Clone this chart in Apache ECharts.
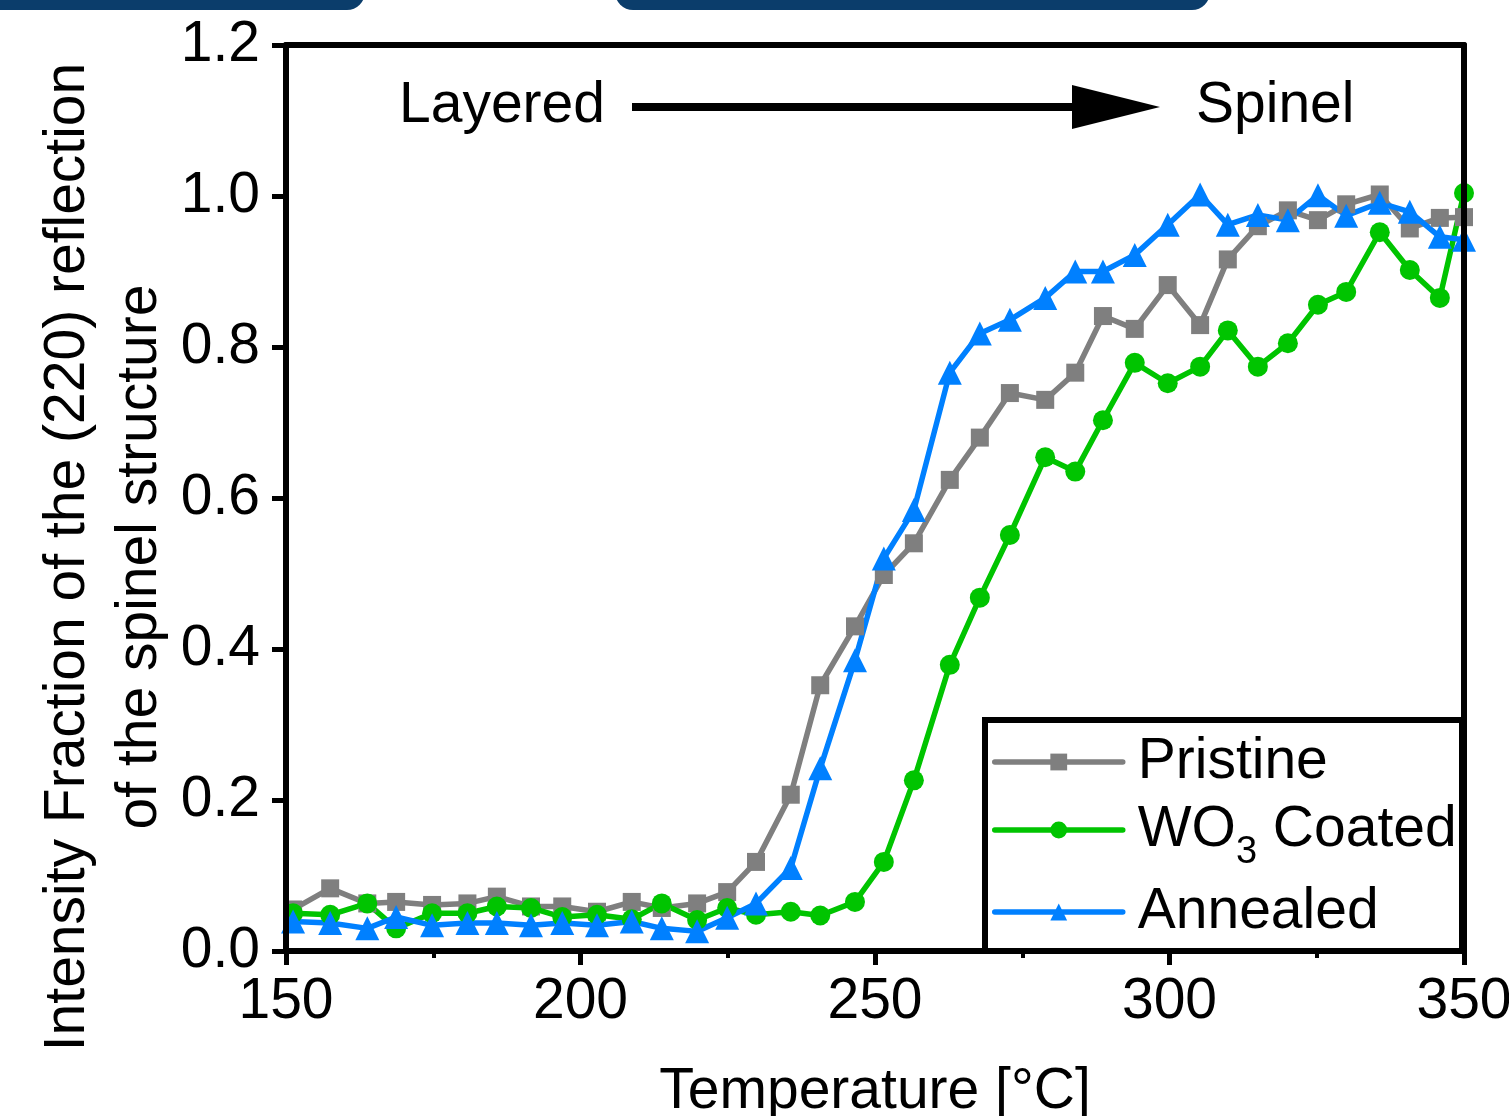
<!DOCTYPE html>
<html>
<head>
<meta charset="utf-8">
<script src="https://cdn.jsdelivr.net/npm/echarts@6/dist/echarts.min.js"></script>
<style>
html,body{margin:0;padding:0;background:#fff;}
#chart{width:1509px;height:1116px;}
</style>
</head>
<body>
<div id="chart"></div>
<script>
// ---- data ----
const temps = [151.2, 157.5, 163.8, 168.7, 174.8, 180.8, 185.8, 191.6, 196.9, 202.8,
  208.7, 213.8, 219.8, 224.9, 229.8, 235.7, 240.7, 246.6, 251.5, 256.6,
  262.7, 267.8, 272.9, 278.9, 284.0, 288.7, 294.1, 299.7, 305.2, 309.9,
  315.0, 320.1, 325.2, 330.0, 335.7, 340.8, 345.9, 350.0];
const pristine = [0.055, 0.083, 0.063, 0.065, 0.061, 0.063, 0.072, 0.059, 0.059, 0.052,
  0.065, 0.057, 0.063, 0.078, 0.118, 0.207, 0.352, 0.430, 0.498, 0.540,
  0.624, 0.680, 0.739, 0.730, 0.766, 0.841, 0.824, 0.882, 0.829, 0.916,
  0.960, 0.981, 0.968, 0.989, 1.002, 0.957, 0.971, 0.972];
const wo3Coated = [0.050, 0.048, 0.063, 0.030, 0.050, 0.050, 0.059, 0.057, 0.045, 0.048,
  0.042, 0.063, 0.041, 0.057, 0.048, 0.052, 0.047, 0.065, 0.118, 0.226,
  0.379, 0.468, 0.551, 0.654, 0.635, 0.703, 0.779, 0.752, 0.774, 0.822,
  0.774, 0.805, 0.856, 0.873, 0.952, 0.902, 0.865, 1.004];
const annealed = [0.039, 0.037, 0.030, 0.045, 0.034, 0.037, 0.037, 0.034, 0.037, 0.034,
  0.039, 0.030, 0.026, 0.044, 0.063, 0.110, 0.242, 0.385, 0.520, 0.584,
  0.766, 0.818, 0.836, 0.865, 0.900, 0.900, 0.922, 0.962, 1.002, 0.962,
  0.975, 0.968, 1.001, 0.974, 0.991, 0.979, 0.946, 0.942];
const seriesNames = ['Pristine', 'WO3 Coated', 'Annealed'];
const xTicks = {min: 150, max: 350, interval: 50};
const yTicks = {min: 0, max: 1.2, interval: 0.2};
const xTitle = 'Temperature [°C]';
const yTitle = 'Intensity Fraction of the (220) reflection\nof the spinel structure';

const FONT = '"Liberation Sans", Arial, sans-serif';
const FS = 57;
const zip = vals => temps.map((t, i) => [t, vals[i]]);

const chart = echarts.init(document.getElementById('chart'), null, {renderer: 'canvas'});

function mkSeries(name, vals, color, symbol, size) {
  return {
    name: name, type: 'line', data: zip(vals),
    symbol: symbol, symbolSize: size,
    lineStyle: {color: color, width: 5.5},
    itemStyle: {color: color},
    emphasis: {disabled: true},
    animation: false, clip: true, z: 2
  };
}

function mkLegend(name, top, rich) {
  const ts = {fontSize: FS, fontFamily: FONT, color: '#000', lineHeight: 60, padding: [0, 0, 0, 10]};
  if (rich) {
    ts.rich = {
      n: {fontSize: FS, fontFamily: FONT, color: '#000', lineHeight: 60},
      s: {fontSize: 38, fontFamily: FONT, color: '#000', lineHeight: 38, padding: [46, 0, 0, 0]}
    };
  }
  return {
    data: [name], left: 992, top: top, orient: 'vertical', padding: 0,
    itemWidth: 128, itemHeight: 21, selectedMode: false, z: 10,
    lineStyle: {width: 5.5, cap: 'round'},
    textStyle: ts,
    formatter: rich ? () => '{n|WO}{s|3}{n| Coated}' : undefined
  };
}

const option = {
  backgroundColor: '#fff',
  animation: false,
  grid: {left: 286, right: 45, top: 45, bottom: 165, show: false, outerBoundsMode: 'none', containLabel: false},
  xAxis: [{
    type: 'value', min: xTicks.min, max: xTicks.max, interval: xTicks.interval,
    position: 'bottom', z: 5,
    axisLine: {show: true, onZero: false, lineStyle: {color: '#000', width: 6}},
    axisTick: {show: true, length: 14, lineStyle: {color: '#000', width: 5}},
    minorTick: {show: true, splitNumber: 2, length: 7, lineStyle: {color: '#000', width: 4}},
    splitLine: {show: false},
    axisLabel: {fontSize: FS, fontFamily: FONT, color: '#000', margin: 23},
    name: xTitle, nameLocation: 'middle', nameGap: 113,
    nameTextStyle: {fontSize: FS, fontFamily: FONT, color: '#000'}
  }, {
    type: 'value', min: xTicks.min, max: xTicks.max, position: 'top', z: 5,
    axisLine: {show: true, onZero: false, lineStyle: {color: '#000', width: 6}},
    axisTick: {show: false}, axisLabel: {show: false}, splitLine: {show: false}
  }],
  yAxis: [{
    type: 'value', min: yTicks.min, max: yTicks.max, interval: yTicks.interval,
    position: 'left', z: 5,
    axisLine: {show: true, onZero: false, lineStyle: {color: '#000', width: 6}},
    axisTick: {show: true, length: 14, lineStyle: {color: '#000', width: 5}},
    splitLine: {show: false},
    axisLabel: {fontSize: FS, fontFamily: FONT, color: '#000', margin: 26,
      formatter: v => v.toFixed(1)}
  }, {
    type: 'value', min: yTicks.min, max: yTicks.max, position: 'right', z: 5,
    axisLine: {show: true, onZero: false, lineStyle: {color: '#000', width: 6}},
    axisTick: {show: false}, axisLabel: {show: false}, splitLine: {show: false}
  }],
  legend: [
    mkLegend(seriesNames[0], 732, false),
    mkLegend(seriesNames[1], 788, true),
    mkLegend(seriesNames[2], 882, false)
  ],
  series: [
    mkSeries(seriesNames[0], pristine, '#7f7f7f', 'rect', 18),
    mkSeries(seriesNames[1], wo3Coated, '#00c400', 'circle', 20),
    mkSeries(seriesNames[2], annealed, '#0080ff', 'triangle', 24)
  ],
  graphic: [
    {type: 'rect', shape: {x: -20, y: -30, width: 385, height: 40, r: 18}, style: {fill: '#0b3d6b'}, z: 1},
    {type: 'rect', shape: {x: 615, y: -30, width: 595, height: 40, r: 18}, style: {fill: '#0b3d6b'}, z: 1},
    {type: 'rect', shape: {x: 985, y: 720, width: 477, height: 231}, style: {fill: '#fff', stroke: '#000', lineWidth: 6}, z: 6},
    {type: 'text', x: 399, y: 106, style: {text: 'Layered', font: FS + 'px ' + FONT, fill: '#000', textAlign: 'left', textVerticalAlign: 'middle'}, z: 6},
    {type: 'text', x: 1196, y: 106, style: {text: 'Spinel', font: FS + 'px ' + FONT, fill: '#000', textAlign: 'left', textVerticalAlign: 'middle'}, z: 6},
    {type: 'line', shape: {x1: 632, y1: 107, x2: 1080, y2: 107}, style: {stroke: '#000', lineWidth: 8}, z: 6},
    {type: 'polygon', shape: {points: [[1072, 85], [1160, 107], [1072, 129]]}, style: {fill: '#000'}, z: 6},
    {type: 'text', x: 104, y: 557, rotation: Math.PI / 2,
      style: {text: yTitle, font: FS + 'px ' + FONT, fill: '#000', textAlign: 'center', textVerticalAlign: 'middle', lineHeight: 72}, z: 6}
  ]
};
chart.setOption(option);
</script>
</body>
</html>
